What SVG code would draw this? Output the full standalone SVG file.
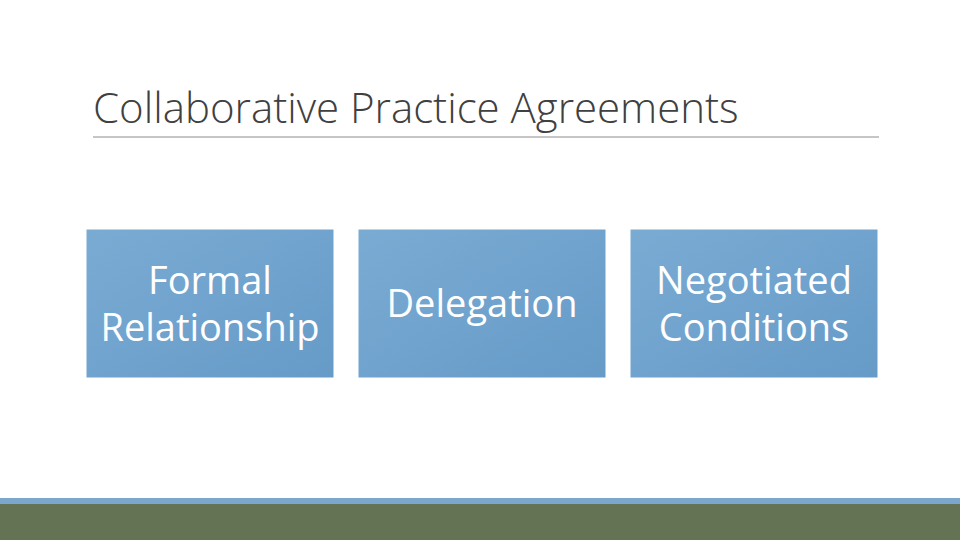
<svg xmlns="http://www.w3.org/2000/svg" width="960" height="540" viewBox="0 0 960 540">
<defs>
<linearGradient id="g" x1="0" y1="0" x2="1" y2="1">
<stop offset="0" stop-color="#7aabd3"/>
<stop offset="1" stop-color="#669bc8"/>
</linearGradient>
<style>
.box{fill:url(#g);stroke:#ffffff;stroke-width:1}
.lbl{font-family:"Open Sans","Noto Sans",sans-serif;font-size:38px;fill:#ffffff;text-anchor:middle}
.title{font-family:"Open Sans","Noto Sans",sans-serif;font-size:42px;font-weight:300;fill:#404040}
</style>
</defs>
<rect width="960" height="540" fill="#ffffff"/>
<text class="title" x="93" y="123">Collaborative Practice Agreements</text>
<line x1="93" y1="137" x2="879" y2="137" stroke="#8c8c8c" stroke-width="1"/>
<g id="node-formal">
<rect class="box" x="86" y="229" width="248" height="149"/>
<text class="lbl" x="210" y="294">Formal</text>
<text class="lbl" x="210" y="341">Relationship</text>
</g>
<g id="node-delegation">
<rect class="box" x="358" y="229" width="248" height="149"/>
<text class="lbl" x="482" y="317">Delegation</text>
</g>
<g id="node-negotiated">
<rect class="box" x="630" y="229" width="248" height="149"/>
<text class="lbl" x="754" y="294">Negotiated</text>
<text class="lbl" x="754" y="341">Conditions</text>
</g>
<g id="connectors"></g>
<rect x="0" y="498" width="960" height="6" fill="#7ba7cc"/>
<rect x="0" y="504" width="960" height="36" fill="#647354"/>
</svg>
